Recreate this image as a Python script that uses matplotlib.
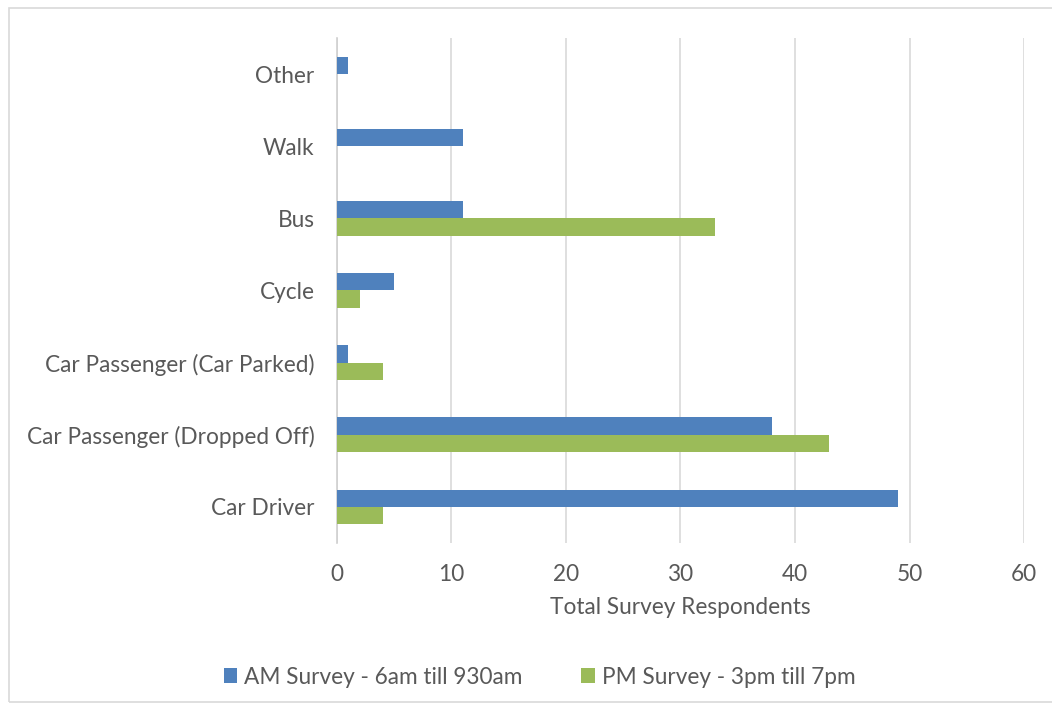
import matplotlib
matplotlib.use("Agg")
import matplotlib.pyplot as plt
from matplotlib.patches import Rectangle
import numpy as np

categories = ["Car Driver", "Car Passenger (Dropped Off)", "Car Passenger (Car Parked)",
              "Cycle", "Bus", "Walk", "Other"]
am_values = [49, 38, 1, 5, 11, 11, 1]
pm_values = [4, 43, 4, 2, 33, 0, 0]
series_names = ["AM Survey - 6am till 930am", "PM Survey - 3pm till 7pm"]
x_ticks = [0, 10, 20, 30, 40, 50, 60]

plt.rcParams['font.family'] = ['Lato', 'DejaVu Sans']
txt = '#595959'
fs = 16.3

fig = plt.figure(figsize=(10.52, 7.06), dpi=100)
ax = fig.add_axes([0.3203, 0.2309, 0.6531, 0.7153])

y = np.arange(len(categories))
h = 0.24
ax.barh(y + h/2, am_values, height=h, color='#4f81bd', label=series_names[0], zorder=3)
ax.barh(y - h/2, pm_values, height=h, color='#9bbb59', label=series_names[1], zorder=3)

ax.set_xlim(0, 60)
ax.set_ylim(-0.5, len(categories) - 0.5)
ax.set_xticks(x_ticks)
ax.set_yticks(y)
ax.set_yticklabels(categories)
ax.tick_params(length=0, labelsize=fs, colors=txt)
ax.tick_params(axis='y', pad=16)
ax.tick_params(axis='x', pad=15)
ax.xaxis.grid(True, color='#d9d9d9', linewidth=1.2, zorder=0)
for s in ['top', 'right', 'bottom']:
    ax.spines[s].set_visible(False)
ax.spines['left'].set_color('#d0d0d0')
ax.spines['left'].set_linewidth(1.2)
ax.set_xlabel("Total Survey Respondents", fontsize=fs, color=txt, labelpad=9)

leg = fig.legend(loc='center', bbox_to_anchor=(0.513, 0.041), ncol=2, frameon=False,
                 fontsize=fs, handlelength=0.6, handleheight=0.6, handletextpad=0.3,
                 columnspacing=2.6)
for t in leg.get_texts():
    t.set_color(txt)

fig.patches.append(Rectangle((0.009, 0.006), 0.995, 0.982, transform=fig.transFigure,
                             fill=False, edgecolor='#d9d9d9', linewidth=1.2))

fig.savefig("out.png", dpi=100, facecolor='white')
